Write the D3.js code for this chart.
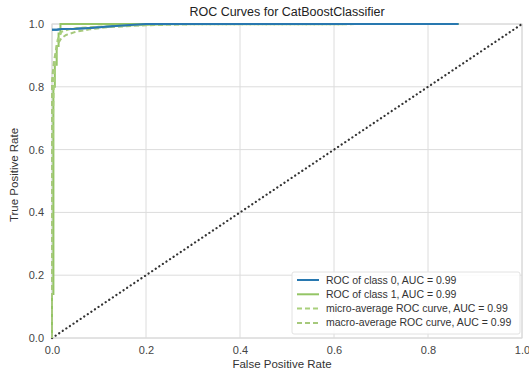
<!DOCTYPE html>
<html>
<head>
<meta charset="utf-8">
<script src="https://cdn.jsdelivr.net/npm/d3@7"></script>
<style>
  body { margin: 0; background: #fff; }
  text { font-family: "Liberation Sans", Arial, sans-serif; }
</style>
</head>
<body>
<div id="chart"></div>
<script>
// ROC points, [fpr, tpr]
var class0 = [[0, 0.982], [0.01, 0.982], [0.02, 0.984], [0.05, 0.985], [0.08, 0.987], [0.1, 0.99], [0.15, 0.995], [0.2, 1.0], [0.865, 1.0]];
var class1 = [[0, 0], [0, 0.14], [0.003, 0.14], [0.003, 0.8], [0.006, 0.8], [0.006, 0.87], [0.01, 0.87], [0.01, 0.93], [0.014, 0.93], [0.014, 0.97], [0.018, 0.97], [0.018, 1.0], [0.865, 1.0]];
var microAvg = [[0, 0], [0, 0.5], [0.002, 0.7], [0.004, 0.82], [0.008, 0.9], [0.012, 0.95], [0.02, 0.975], [0.04, 0.985], [0.08, 0.99], [0.15, 0.995], [0.25, 0.999], [0.865, 1.0]];
var macroAvg = [[0, 0], [0, 0.82], [0.004, 0.88], [0.01, 0.93], [0.02, 0.955], [0.03, 0.965], [0.05, 0.975], [0.08, 0.983], [0.12, 0.99], [0.2, 0.996], [0.3, 0.999], [0.865, 1.0]];
var diagonal = [[0, 0], [1, 1]];
var tickValues = [0, 0.2, 0.4, 0.6, 0.8, 1.0];
var legendLabels = ["ROC of class 0, AUC = 0.99", "ROC of class 1, AUC = 0.99",
                    "micro-average ROC curve, AUC = 0.99", "macro-average ROC curve, AUC = 0.99"];

var W = 529, H = 373;
var margin = {top: 24, right: 7, bottom: 35, left: 52},
    width = W - margin.left - margin.right,
    height = H - margin.top - margin.bottom;

var svg = d3.select("#chart").append("svg")
    .attr("width", W)
    .attr("height", H);
var g = svg.append("g")
    .attr("transform", "translate(" + margin.left + "," + margin.top + ")");

var x = d3.scaleLinear().domain([0, 1]).range([0, width]);
var y = d3.scaleLinear().domain([0, 1]).range([height, 0]);

// grid
g.append("g").selectAll("line.vx")
  .data(tickValues).enter().append("line")
    .attr("x1", d => x(d)).attr("x2", d => x(d))
    .attr("y1", 0).attr("y2", height)
    .attr("stroke", "#dcdcdc").attr("stroke-width", 1);
g.append("g").selectAll("line.hy")
  .data(tickValues).enter().append("line")
    .attr("y1", d => y(d)).attr("y2", d => y(d))
    .attr("x1", 0).attr("x2", width)
    .attr("stroke", "#dcdcdc").attr("stroke-width", 1);

g.append("rect")
  .attr("width", width).attr("height", height)
  .attr("fill", "none").attr("stroke", "#d8d8d8").attr("stroke-width", 1);

// axes
var xAxis = g.append("g")
  .attr("transform", "translate(0," + height + ")")
  .call(d3.axisBottom(x).tickValues(tickValues).tickFormat(d3.format(".1f")).tickSize(0).tickPadding(8));
var yAxis = g.append("g")
  .call(d3.axisLeft(y).tickValues(tickValues).tickFormat(d3.format(".1f")).tickSize(0).tickPadding(8));
[xAxis, yAxis].forEach(a => {
  a.select(".domain").remove();
  a.selectAll("text").attr("fill", "#444").style("font-size", "11px")
    .style("font-family", "'Liberation Sans', Arial, sans-serif");
});

var line = d3.line()
  .x(d => x(d[0]))
  .y(d => y(d[1]));

// diagonal
g.append("path")
  .datum(diagonal)
  .attr("d", line)
  .attr("fill", "none")
  .attr("stroke", "#333")
  .attr("stroke-width", 2.2)
  .attr("stroke-linecap", "round")
  .attr("stroke-dasharray", "0.1,4.2");

var series = [
  {data: class0, color: "#2878b0", dash: null},
  {data: class1, color: "#94c565", dash: null},
  {data: microAvg, color: "#a9d07c", dash: "5,3"},
  {data: macroAvg, color: "#a6c97c", dash: "5,3"}
];

series.forEach(s => {
  g.append("path")
    .datum(s.data)
    .attr("d", line)
    .attr("fill", "none")
    .attr("stroke", s.color)
    .attr("stroke-width", 2)
    .attr("stroke-dasharray", s.dash);
});

// redraw class 0 on top so it stays visible
g.append("path")
  .datum(class0)
  .attr("d", line)
  .attr("fill", "none")
  .attr("stroke", series[0].color)
  .attr("stroke-width", 2);

// title and labels
svg.append("text")
  .attr("x", margin.left + width / 2).attr("y", 16)
  .attr("text-anchor", "middle")
  .style("font-size", "12.5px").attr("fill", "#222")
  .text("ROC Curves for CatBoostClassifier");

svg.append("text")
  .attr("x", margin.left + width / 2 - 5).attr("y", H - 5)
  .attr("text-anchor", "middle")
  .style("font-size", "11.5px").attr("fill", "#333")
  .text("False Positive Rate");

svg.append("text")
  .attr("transform", "translate(18," + (margin.top + height / 2 - 6) + ") rotate(-90)")
  .attr("text-anchor", "middle")
  .style("font-size", "11.5px").attr("fill", "#333")
  .text("True Positive Rate");

// legend
var lg = g.append("g")
  .attr("transform", "translate(" + (width - 230) + "," + (height - 66) + ")");
lg.append("rect")
  .attr("width", 228).attr("height", 62)
  .attr("rx", 2)
  .attr("fill", "#fff").attr("fill-opacity", 0.85)
  .attr("stroke", "#e2e2e2");
legendLabels.forEach((lbl, i) => {
  var yy = 8 + i * 14.3;
  lg.append("line")
    .attr("x1", 5).attr("x2", 27)
    .attr("y1", yy).attr("y2", yy)
    .attr("stroke", series[i].color)
    .attr("stroke-width", 2)
    .attr("stroke-dasharray", series[i].dash);
  lg.append("text")
    .attr("x", 34).attr("y", yy + 3.5)
    .style("font-size", "10.5px").attr("fill", "#333")
    .text(lbl);
});
</script>
</body>
</html>
